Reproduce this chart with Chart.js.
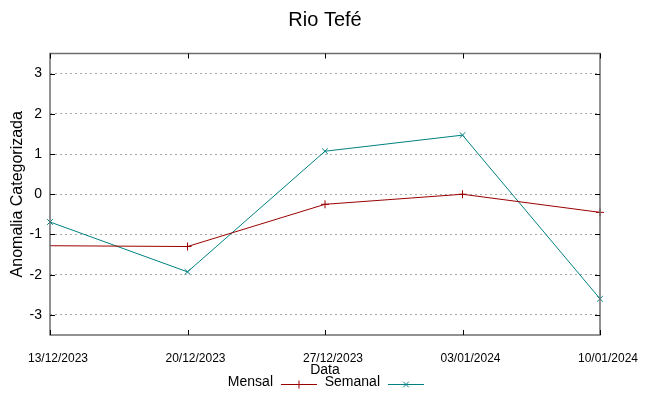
<!DOCTYPE html>
<html>
<head>
<meta charset="utf-8">
<script src="https://cdn.jsdelivr.net/npm/chart.js@4/dist/chart.umd.min.js"></script>
<style>
  html, body { margin: 0; padding: 0; background: #fff; }
  #wrap { width: 649px; height: 396px; }
</style>
</head>
<body>
<div id="wrap"><canvas id="chart" width="649" height="396"></canvas></div>
<script>
// Data
const dates   = ['13/12/2023', '20/12/2023', '27/12/2023', '03/01/2024', '10/01/2024'];
const mensal  = [-1.28, -1.30, -0.25, 0.00, -0.45];
const semanal = [-0.69, -1.93, 1.07, 1.47, -2.60];
const yTicks  = [-3, -2, -1, 0, 1, 2, 3];

const RED  = '#9a0000';
const TEAL = '#008080';
const FONT = "'Liberation Sans', Arial, sans-serif";

// gnuplot-like frame with inward ticks on all four sides
const framePlugin = {
  id: 'frame',
  afterDraw(chart) {
    const { ctx, chartArea: a, scales } = chart;
    ctx.save();
    ctx.strokeStyle = '#6e6e6e';
    ctx.lineWidth = 1.5;
    ctx.strokeRect(a.left, a.top, a.right - a.left, a.bottom - a.top);
    ctx.strokeStyle = '#000';
    ctx.lineWidth = 1;
    ctx.beginPath();
    yTicks.forEach(v => {
      const y = Math.round(scales.y.getPixelForValue(v)) + 0.5;
      ctx.moveTo(a.left, y); ctx.lineTo(a.left + 5, y);
      ctx.moveTo(a.right, y); ctx.lineTo(a.right - 5, y);
    });
    dates.forEach((d, i) => {
      const x = Math.round(scales.x.getPixelForValue(i)) + 0.5;
      ctx.moveTo(x, a.bottom); ctx.lineTo(x, a.bottom - 5);
      ctx.moveTo(x, a.top); ctx.lineTo(x, a.top + 5);
    });
    ctx.stroke();
    ctx.restore();
  }
};

// legend: text first, then line sample with marker
const legendPlugin = {
  id: 'gpLegend',
  afterDraw(chart) {
    const { ctx } = chart;
    const textRight = [273, 380];
    const y = 382.5;
    ctx.save();
    ctx.font = '14px ' + FONT;
    ctx.textAlign = 'right';
    ctx.textBaseline = 'middle';
    chart.data.datasets.forEach((ds, i) => {
      const x = textRight[i];
      ctx.fillStyle = '#000';
      ctx.fillText(ds.label, x, y);
      const x0 = x + 8, x1 = x + 44, ly = y + 2;
      ctx.strokeStyle = ds.borderColor;
      ctx.lineWidth = 1;
      ctx.beginPath();
      ctx.moveTo(x0, ly); ctx.lineTo(x1, ly);
      ctx.stroke();
      Chart.helpers.drawPoint(ctx, {
        pointStyle: ds.pointStyle, radius: 4, borderWidth: 1
      }, (x0 + x1) / 2, ly);
    });
    ctx.restore();
  }
};

new Chart(document.getElementById('chart'), {
  type: 'line',
  data: {
    labels: dates,
    datasets: [
      {
        label: 'Mensal',
        data: mensal,
        borderColor: RED,
        backgroundColor: RED,
        borderWidth: 1,
        pointStyle: 'cross',
        pointRadius: c => (c.dataIndex === 0 ? 0 : 4),
        pointBorderWidth: 1,
        tension: 0,
      },
      {
        label: 'Semanal',
        data: semanal,
        borderColor: TEAL,
        backgroundColor: TEAL,
        borderWidth: 1,
        pointStyle: 'crossRot',
        pointRadius: 4,
        pointBorderWidth: 1,
        tension: 0,
      },
    ],
  },
  options: {
    responsive: false,
    animation: false,
    layout: { padding: { left: 0, right: 49, top: 0, bottom: 19 } },
    plugins: {
      legend: { display: false },
      tooltip: { enabled: false },
      title: {
        display: true,
        fullSize: false,
        text: 'Rio Tefé',
        color: '#000',
        font: { family: FONT, size: 20, weight: 'normal', lineHeight: 1.2 },
        padding: { top: 8, bottom: 21.5 },
      },
    },
    scales: {
      x: {
        type: 'category',
        offset: false,
        grid: { display: false, drawTicks: false },
        border: { display: false },
        ticks: {
          color: '#000',
          maxRotation: 0,
          autoSkip: false,
          padding: 16,
          labelOffset: 8,
          font: { family: FONT, size: 12 },
        },
        title: {
          display: true,
          text: 'Data',
          color: '#000',
          font: { family: FONT, size: 14, lineHeight: 1 },
          padding: { top: 0, bottom: 0 },
        },
        afterFit(scale) { scale.height = 42; },
      },
      y: {
        min: -3.5,
        max: 3.5,
        afterBuildTicks(scale) { scale.ticks = yTicks.map(v => ({ value: v })); },
        grid: { color: '#a8a8a8', lineWidth: 1, drawTicks: false },
        border: { display: false, dash: [2, 3] },
        ticks: {
          color: '#000',
          padding: 8,
          font: { family: FONT, size: 14 },
        },
        title: {
          display: true,
          text: 'Anomalia Categorizada',
          color: '#000',
          font: { family: FONT, size: 16, lineHeight: 1.2 },
          padding: { top: 8, bottom: 0 },
        },
        afterFit(scale) { scale.width = 50; },
      },
    },
  },
  plugins: [framePlugin, legendPlugin],
});
</script>
</body>
</html>
